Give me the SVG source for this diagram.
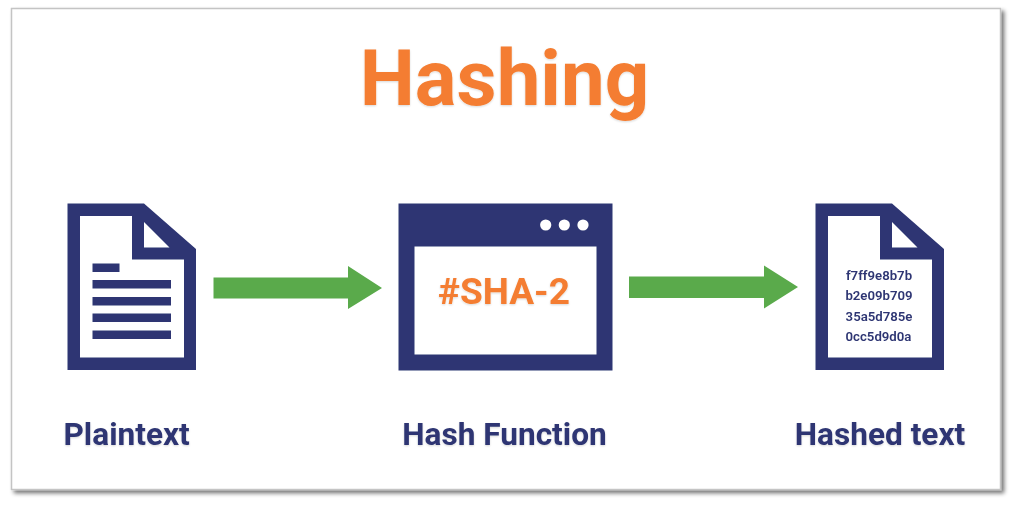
<svg xmlns="http://www.w3.org/2000/svg" width="1013" height="506" viewBox="0 0 1013 506">
<defs>
<filter id="frameShadow" x="-3%" y="-3%" width="106%" height="106%"><feGaussianBlur in="SourceAlpha" stdDeviation="2.2"/><feOffset dx="2.5" dy="2.5"/><feComponentTransfer><feFuncA type="linear" slope="0.55"/></feComponentTransfer><feMerge><feMergeNode/><feMergeNode in="SourceGraphic"/></feMerge></filter>
<filter id="soft" x="-5%" y="-5%" width="110%" height="110%"><feGaussianBlur stdDeviation="0.45"/></filter>
<filter id="softText" x="-5%" y="-10%" width="110%" height="125%"><feGaussianBlur in="SourceGraphic" stdDeviation="0.4" result="b"/><feGaussianBlur in="SourceAlpha" stdDeviation="1.2"/><feOffset dx="0.3" dy="1.2"/><feComponentTransfer><feFuncA type="linear" slope="0.16"/></feComponentTransfer><feMerge><feMergeNode/><feMergeNode in="b"/></feMerge></filter>
<path id="doc" fill-rule="evenodd" d="M67.5 203.5H144L196 249V370H67.5ZM80 216V357.5H184V259.5H132V216ZM144 222V247.5H169.5Z"/>
</defs>
<style>
.navy{fill:#2e3673}
.green{fill:#5aaa4b}
.t{font-family:Roboto,"Liberation Sans",sans-serif;font-weight:700}
.label{font-size:31.6px;fill:#2e3673}
.hash{font-size:13.2px;fill:#2e3673;text-anchor:middle;font-weight:600}
.orange{fill:#f47d30}
.line{fill:#2e3673}
</style>
<rect width="1013" height="506" fill="#ffffff"/>
<rect id="frame" x="11.5" y="8.5" width="989" height="481" fill="#ffffff" stroke="#c4c4c4" stroke-width="1.5" filter="url(#frameShadow)"/>
<text id="title" class="t orange" x="504.5" y="105" font-size="78" text-anchor="middle" filter="url(#softText)">Hashing</text>
<g id="connectors" filter="url(#soft)">
<polygon class="green" points="213.5,277.5 348,277.5 348,266 382,288 348,309 348,298.5 213.5,298.5"/>
<polygon class="green" points="629,276.5 764,276.5 764,265.5 798,287 764,308.5 764,298 629,298"/>
</g>
<g id="plaintext">
<g filter="url(#soft)">
<use href="#doc" class="navy"/>
<rect class="line" x="92.5" y="263.5" width="27" height="8.5"/>
<rect class="line" x="92.5" y="280" width="78.5" height="8.5"/>
<rect class="line" x="92.5" y="297" width="78.5" height="8.5"/>
<rect class="line" x="92.5" y="313.5" width="78.5" height="8.5"/>
<rect class="line" x="92.5" y="330.5" width="78.5" height="8.5"/>
</g>
<text class="t label" x="63.5" y="444.5" filter="url(#softText)">Plaintext</text>
</g>
<g id="hash-function">
<g filter="url(#soft)">
<path class="navy" fill-rule="evenodd" d="M398.5 203.5H612.5V370.5H398.5ZM414.5 246.5V354.5H596.5V246.5Z"/>
<circle cx="545.7" cy="225" r="5.6" fill="#fff"/>
<circle cx="564.3" cy="225" r="5.6" fill="#fff"/>
<circle cx="583" cy="225" r="5.6" fill="#fff"/>
</g>
<text class="t orange" x="504" y="303.5" font-size="37" text-anchor="middle" filter="url(#softText)">#SHA-2</text>
<text class="t label" x="504.5" y="444.5" text-anchor="middle" filter="url(#softText)">Hash Function</text>
</g>
<g id="hashed-text">
<use href="#doc" class="navy" x="748" filter="url(#soft)"/>
<g filter="url(#soft)">
<text class="t hash" x="879" y="279.5">f7ff9e8b7b</text>
<text class="t hash" x="879" y="300">b2e09b709</text>
<text class="t hash" x="879" y="320.5">35a5d785e</text>
<text class="t hash" x="878.5" y="341">0cc5d9d0a</text>
</g>
<text class="t label" x="880" y="444.5" text-anchor="middle" filter="url(#softText)">Hashed text</text>
</g>
</svg>
